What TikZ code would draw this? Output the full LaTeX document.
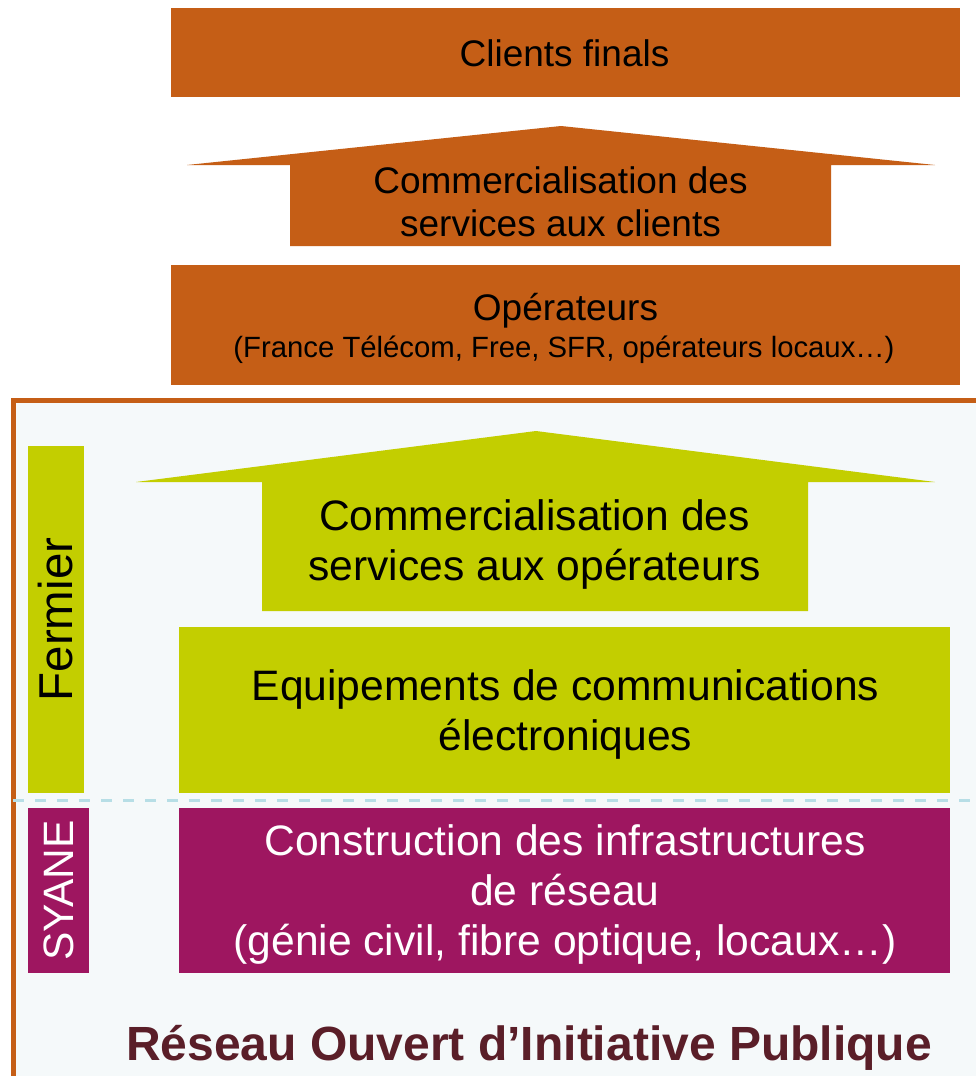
\documentclass[tikz,border=0pt]{standalone}
\usepackage{fontspec}
\setmainfont{Liberation Sans}
\definecolor{orng}{RGB}{197,94,22}
\definecolor{limeg}{RGB}{195,206,0}
\definecolor{mag}{RGB}{158,22,96}
\definecolor{framebg}{RGB}{245,249,250}
\definecolor{dashc}{RGB}{183,222,230}
\definecolor{darkred}{RGB}{90,30,40}
\begin{document}
\begin{tikzpicture}[x=1pt,y=-1pt,
  box/.style={draw=none, inner sep=0pt, outer sep=0pt, anchor=north west},
  lbl/.style={inner sep=0pt, anchor=base},
  fa/.style={font=\fontsize{37}{43}\selectfont},
  fb/.style={font=\fontsize{29.3}{35}\selectfont},
  fc/.style={font=\fontsize{42.6}{50}\selectfont},
  fside/.style={rotate=90, inner sep=0pt},
]
\useasboundingbox (0,0) rectangle (976,1076);
\clip (0,0) rectangle (976,1076);
\fill[white] (0,0) rectangle (976,1076);

% frame of the public network
\draw[line width=5pt, draw=orng, fill=framebg] (13.5,400.5) rectangle (1010,1110);

% top boxes
\node[box, fill=orng, minimum width=789pt, minimum height=89pt] (clients) at (171,8) {};
\node[lbl, fa] (tclients) at (564.5,66) {Clients finals};

\fill[orng] (561,126) -- (935,165) -- (831,165) -- (831,246) -- (290,246) -- (290,165) -- (187,165) -- cycle;
\node[lbl, fa] (tcom1a) at (560.5,193) {Commercialisation des};
\node[lbl, fa] (tcom1b) at (560.5,236) {services aux clients};

\node[box, fill=orng, minimum width=789pt, minimum height=120pt] (ops) at (171,265) {};
\node[lbl, fa] (tops) at (565.5,320) {Opérateurs};
\node[lbl, fb] (topsb) at (564,357) {(France Télécom, Free, SFR, opérateurs locaux…)};

% fermier part
\node[box, fill=limeg, minimum width=56pt, minimum height=347pt] (fermier) at (28,446) {};
\node[fside, font=\fontsize{47.5}{50}\selectfont] (tfermier) at (fermier.center) {Fermier};

\fill[limeg] (536,431) -- (935,482) -- (808,482) -- (808,611) -- (262,611) -- (262,482) -- (136,482) -- cycle;
\node[lbl, fc] (tcom2a) at (534.5,530) {Commercialisation des};
\node[lbl, fc] (tcom2b) at (534.5,580) {services aux opérateurs};

\node[box, fill=limeg, minimum width=771pt, minimum height=166pt] (equip) at (179,627) {};
\node[lbl, fc] (tequipa) at (565.5,700) {Equipements de communications};
\node[lbl, fc] (tequipb) at (565.5,750) {électroniques};

% separator
\coordinate (sepl) at (13,800.5);
\coordinate (sepr) at (976,800.5);
\draw[dashc, line width=2.5pt, dash pattern=on 11pt off 11pt] (sepl) -- (sepr);

% SYANE part
\node[box, fill=mag, minimum width=61pt, minimum height=165pt] (syane) at (28,808) {};
\node[fside, white, font=\fontsize{42.5}{48}\selectfont] (tsyane) at (syane.center) {SYANE};

\node[box, fill=mag, minimum width=771pt, minimum height=165pt] (constr) at (179,808) {};
\node[lbl, fc, white] (tconstra) at (565,855) {Construction des infrastructures};
\node[lbl, fc, white] (tconstrb) at (565,905) {de réseau};
\node[lbl, fc, white] (tconstrc) at (565,955) {(génie civil, fibre optique, locaux…)};

% caption
\node[lbl, darkred, font=\fontsize{48}{56}\selectfont\bfseries] (caption) at (529,1060) {Réseau Ouvert d’Initiative Publique};
\end{tikzpicture}
\end{document}
